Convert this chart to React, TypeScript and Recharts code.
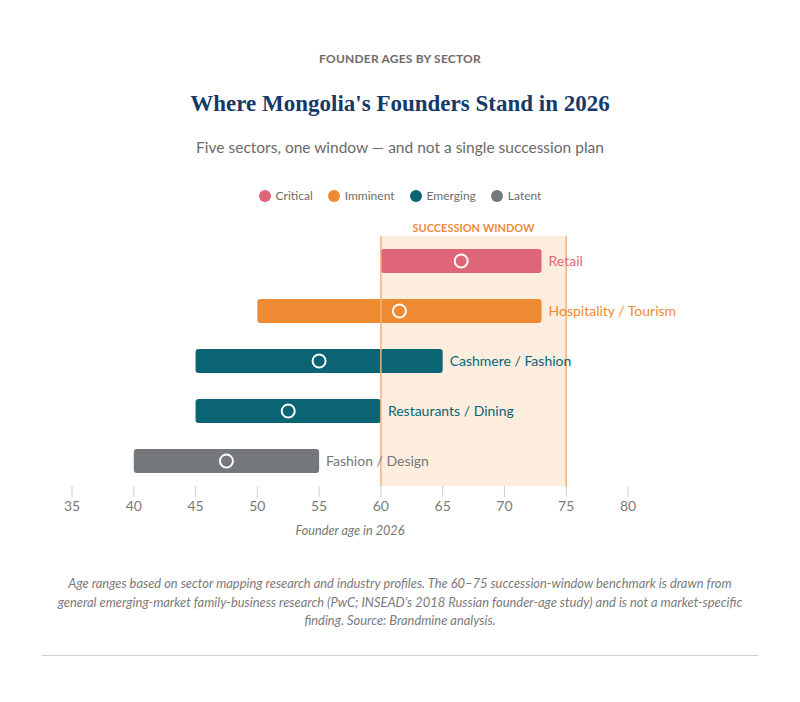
import React from 'react';
import {
  ComposedChart,
  Bar,
  Line,
  Cell,
  XAxis,
  YAxis,
  ReferenceArea,
  ReferenceLine,
  LabelList,
} from 'recharts';

// sector rows, top to bottom
const sectors = ['Retail', 'Hospitality / Tourism', 'Cashmere / Fashion', 'Restaurants / Dining', 'Fashion / Design'];
const ageFrom = [60, 50, 45, 45, 40];
const ageTo = [73, 73, 65, 60, 55];
const typicalAge = [66.5, 61.5, 55, 52.5, 47.5];
const stage = ['Critical', 'Imminent', 'Emerging', 'Emerging', 'Latent'];

const stages = ['Critical', 'Imminent', 'Emerging', 'Latent'];
const STAGE_COLORS: Record<string, string> = {
  Critical: '#df6679',
  Imminent: '#ee8a32',
  Emerging: '#0b6474',
  Latent: '#75787a',
};

const ageTicks = [35, 40, 45, 50, 55, 60, 65, 70, 75, 80];
const windowFrom = 60;
const windowTo = 75;

const rows = sectors.map((name, i) => ({
  name,
  range: [ageFrom[i], ageTo[i]],
  mid: typicalAge[i],
  stage: stage[i],
}));

const FONT = 'Lato, "Open Sans", sans-serif';

const SectorLabel = (props: any) => {
  const { x, y, width, height, index } = props;
  const row = rows[index];
  return (
    <text
      x={x + width + 7}
      y={y + height / 2}
      dy="0.35em"
      fontSize={14}
      fontFamily={FONT}
      fill={STAGE_COLORS[row.stage]}
    >
      {row.name}
    </text>
  );
};

const MidDot = (props: any) => {
  const { cx, cy } = props;
  if (cx == null || cy == null) return null;
  return <circle cx={cx} cy={cy} r={6.5} fill="none" stroke="#ffffff" strokeWidth={2} />;
};

const abs = (top: number, extra: React.CSSProperties = {}): React.CSSProperties => ({
  position: 'absolute',
  top,
  left: 0,
  width: 800,
  textAlign: 'center',
  ...extra,
});

export default function App() {
  return (
    <div
      style={{
        position: 'absolute',
        top: 0,
        left: 0,
        width: 800,
        height: 702,
        background: '#ffffff',
        fontFamily: FONT,
        overflow: 'hidden',
      }}
    >
      <div style={abs(51, { fontSize: 12, lineHeight: '16px', fontWeight: 700, color: '#6b6b6b', letterSpacing: 0.2 })}>
        FOUNDER AGES BY SECTOR
      </div>
      <div
        style={abs(89, {
          fontSize: 23,
          lineHeight: '30px',
          fontWeight: 700,
          color: '#163a68',
          fontFamily: '"Liberation Serif", "DejaVu Serif", serif',
        })}
      >
        Where Mongolia's Founders Stand in 2026
      </div>
      <div style={abs(136, { fontSize: 15.5, lineHeight: '22px', color: '#6a6a6a' })}>
        Five sectors, one window — and not a single succession plan
      </div>

      {/* legend */}
      <div
        style={abs(187, {
          display: 'flex',
          justifyContent: 'center',
          gap: 15,
          fontSize: 12,
          lineHeight: '18px',
          color: '#6d6d6d',
        })}
      >
        {stages.map((s) => (
          <div key={s} style={{ display: 'flex', alignItems: 'center', gap: 5 }}>
            <span
              style={{
                display: 'inline-block',
                width: 12,
                height: 12,
                borderRadius: 6,
                background: STAGE_COLORS[s],
              }}
            />
            {s}
          </div>
        ))}
      </div>

      <div style={{ position: 'absolute', top: 0, left: 0 }}>
        <ComposedChart
          width={800}
          height={560}
          data={rows}
          layout="vertical"
          margin={{ top: 236, right: 172, bottom: 44, left: 72 }}
          barCategoryGap={13}
        >
          <ReferenceArea
            x1={windowFrom}
            x2={windowTo}
            fill="#fdeddf"
            fillOpacity={1}
            stroke="none"
            label={{
              value: 'SUCCESSION WINDOW',
              position: 'top',
              offset: 4,
              fill: '#ec8a3d',
              fontSize: 11,
              fontWeight: 700,
              fontFamily: FONT,
            }}
          />
          <ReferenceLine x={windowFrom} stroke="#f2b27f" strokeWidth={1.5} />
          <ReferenceLine x={windowTo} stroke="#f2b27f" strokeWidth={1.5} />
          <XAxis
            type="number"
            domain={[35, 80]}
            ticks={ageTicks}
            axisLine={false}
            tickLine={{ stroke: '#cfcfcf' }}
            tickSize={11}
            tick={{ fill: '#7a7a7a', fontSize: 14, fontFamily: FONT, dy: 2 }}
            interval={0}
          />
          <YAxis type="category" dataKey="name" hide />
          <Bar dataKey="range" barSize={24} radius={3} isAnimationActive={false}>
            {rows.map((r) => (
              <Cell key={r.name} fill={STAGE_COLORS[r.stage]} />
            ))}
            <LabelList dataKey="name" content={SectorLabel} />
          </Bar>
          <Line
            dataKey="mid"
            stroke="none"
            dot={<MidDot />}
            activeDot={false}
            isAnimationActive={false}
          />
        </ComposedChart>
      </div>

      <div
        style={{
          position: 'absolute',
          top: 522,
          left: 250,
          width: 200,
          textAlign: 'center',
          fontSize: 12.7,
          lineHeight: '16px',
          fontStyle: 'italic',
          color: '#777777',
        }}
      >
        Founder age in 2026
      </div>

      <div
        style={abs(574, {
          fontSize: 12.9,
          lineHeight: '18.5px',
          fontStyle: 'italic',
          color: '#7a7a7a',
        })}
      >
        Age ranges based on sector mapping research and industry profiles. The 60–75 succession-window benchmark is drawn from
        <br />
        general emerging-market family-business research (PwC; INSEAD's 2018 Russian founder-age study) and is not a market-specific
        <br />
        finding. Source: Brandmine analysis.
      </div>

      <div
        style={{
          position: 'absolute',
          top: 655,
          left: 42,
          width: 716,
          borderTop: '1px solid #d2d2d2',
        }}
      />
    </div>
  );
}
